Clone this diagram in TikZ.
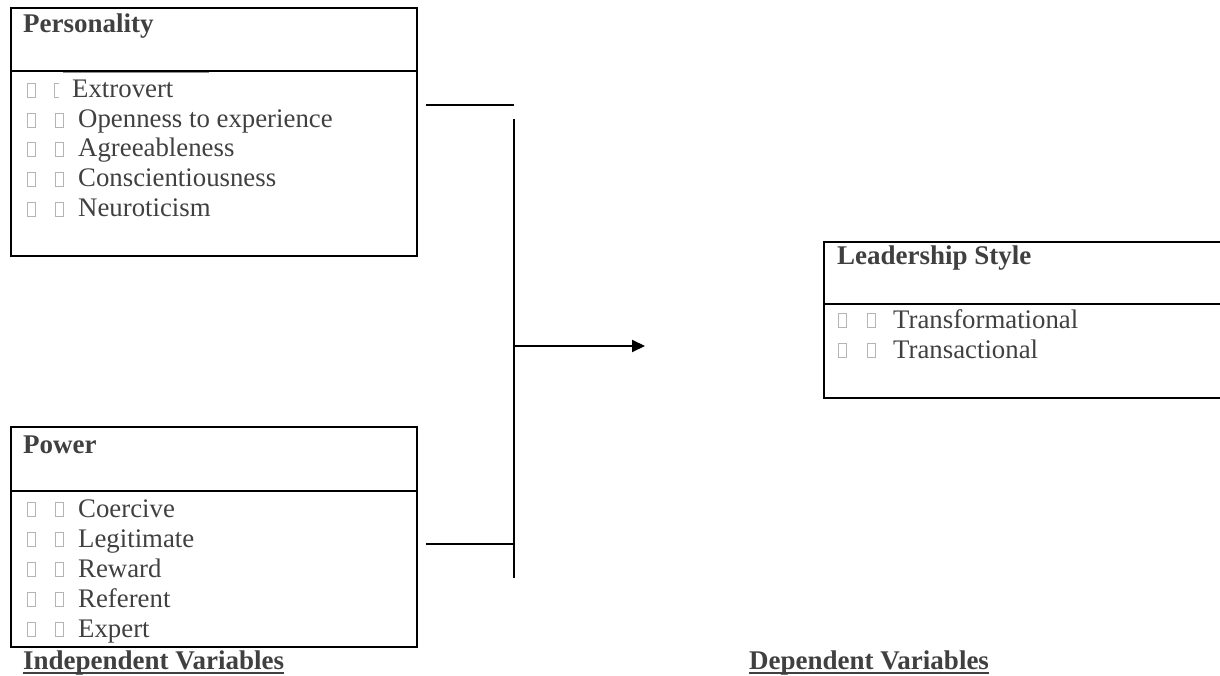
\documentclass[tikz,border=0pt]{standalone}
\usepackage{fontspec}
\setmainfont{Liberation Serif}
\usetikzlibrary{arrows.meta}
\definecolor{txt}{HTML}{404040}
\definecolor{tofuc}{HTML}{B4B4B4}
\tikzset{
  boxline/.style={line width=2.6pt, line cap=rect},
  itemtext/.style={anchor=base west, inner sep=0pt, text=txt, font=\fontsize{26.8}{30}\selectfont},
  headtext/.style={anchor=base west, inner sep=0pt, text=txt, font=\fontsize{27}{30}\selectfont\bfseries},
  tofubox/.style={draw=tofuc, line width=0.9pt},
  conn/.style={line width=1.9pt},
}
\newcommand\tofupair[3]{% x1, x2, baseline
  \draw[tofubox] (#1,#3-1) rectangle (#1+8,#3-15);
  \draw[tofubox] (#2,#3-1) rectangle (#2+8,#3-15);
}
\begin{document}
\begin{tikzpicture}[x=1pt,y=-1pt]
\useasboundingbox (0,0) rectangle (1220,676);
% ---------- Personality box
\node[draw=none, minimum width=406pt, minimum height=248pt, inner sep=0, outer sep=0, anchor=north west] (pers) at (11,8) {};
\draw[boxline] (pers.north west) rectangle (pers.south east);
\draw[boxline] (11,71) -- (417,71);
\draw[tofuc!80!black, line width=1.4pt] (63,72.5) -- (209,72.5);
\node[headtext] (perst) at (23,33) {Personality};
\draw[tofubox] (27,97) rectangle (35,83);
\draw[tofubox] (59,97) -- (54,97) -- (54,83) -- (59,83);
\node[itemtext] (p1) at (72,98) {Extrovert};
\tofupair{27}{55}{128}
\node[itemtext] (p2) at (78,128) {Openness to experience};
\tofupair{27}{55}{157}
\node[itemtext] (p3) at (78,157) {Agreeableness};
\tofupair{27}{55}{187}
\node[itemtext] (p4) at (78,187) {Conscientiousness};
\tofupair{27}{55}{217}
\node[itemtext] (p5) at (78,217) {Neuroticism};
% ---------- Power box
\node[draw=none, minimum width=406pt, minimum height=220pt, inner sep=0, outer sep=0, anchor=north west] (pow) at (11,427) {};
\draw[boxline] (pow.north west) rectangle (pow.south east);
\draw[boxline] (11,491) -- (417,491);
\node[headtext] (powt) at (23,453) {Power};
\tofupair{27}{55}{517}
\node[itemtext] (w1) at (78,517) {Coercive};
\tofupair{27}{55}{547}
\node[itemtext] (w2) at (78,547) {Legitimate};
\tofupair{27}{55}{577}
\node[itemtext] (w3) at (78,577) {Reward};
\tofupair{27}{55}{607}
\node[itemtext] (w4) at (78,607) {Referent};
\tofupair{27}{55}{637}
\node[itemtext] (w5) at (78,637) {Expert};
% ---------- Leadership box (open on the right)
\node[draw=none, minimum width=396pt, minimum height=156pt, inner sep=0, outer sep=0, anchor=north west] (lead) at (824,242) {};
\draw[boxline] (lead.north east) -- (lead.north west) -- (lead.south west) -- (lead.south east);
\draw[boxline] (824,304) -- (1220,304);
\node[headtext] (leadt) at (837,265) {Leadership Style};
\tofupair{838}{867}{328}
\node[itemtext] (l1) at (893,328) {Transformational};
\tofupair{838}{867}{358}
\node[itemtext] (l2) at (893,358) {Transactional};
% ---------- captions
\node[headtext] (iv) at (23,669) {Independent Variables};
\draw[txt, line width=1.3pt] ([yshift=-4pt]iv.base west) -- ([yshift=-4pt]iv.base east);
\node[headtext] (dv) at (749,669) {Dependent Variables};
\draw[txt, line width=1.3pt] ([yshift=-4pt]dv.base west) -- ([yshift=-4pt]dv.base east);
% ---------- connectors
\coordinate (ta) at (426,105);
\coordinate (tb) at (514,105);
\coordinate (vt) at (514,119);
\coordinate (vb) at (514,578);
\coordinate (am) at (514,346);
\coordinate (ae) at (645,346);
\coordinate (ba) at (426,544);
\coordinate (bb) at (514,544);
\draw[conn] (ta) -- (tb);
\draw[conn] (vt) -- (vb);
\draw[conn, -{Triangle[length=13pt,width=12pt]}] (am) -- (ae);
\draw[conn] (ba) -- (bb);
\end{tikzpicture}
\end{document}
